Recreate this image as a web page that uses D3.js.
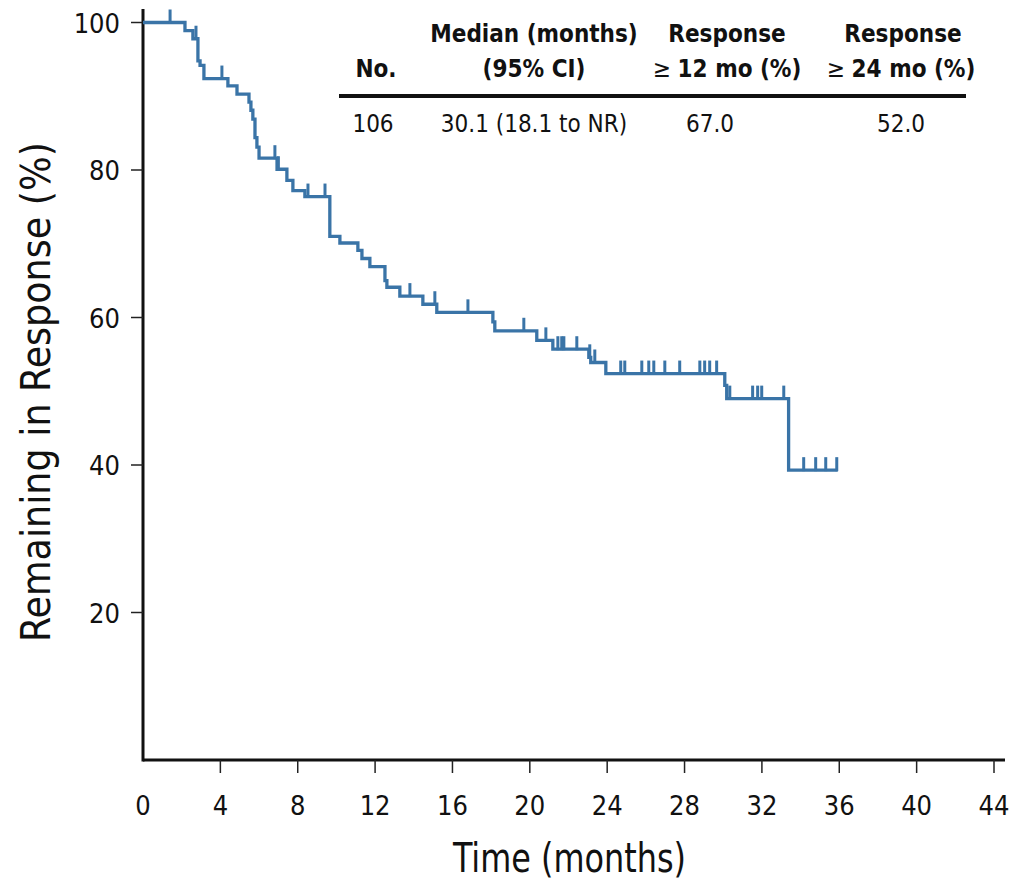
<!DOCTYPE html>
<html>
<head>
<meta charset="utf-8">
<title>Duration of response</title>
<style>
    body { margin: 0; background: #fff; }
    svg { display: block; }
    .cond { font-family: "DejaVu Sans Condensed", "Liberation Sans Narrow", "Arial Narrow", sans-serif; }
</style>
<script src="https://d3js.org/d3.v7.min.js"></script>
</head>
<body>
<svg id="chart" width="1017" height="883"></svg>
<script>
    // step events: time of drop (months) and new % remaining
    const stepTimes = [2.17, 2.58, 2.84, 2.95, 3.15, 4.39, 4.86, 5.48, 5.58, 5.68, 5.79, 5.89, 6.0,
        6.93, 7.44, 7.75, 8.37, 9.66, 10.18, 11.11, 11.32, 11.73, 12.51, 12.61, 13.28, 14.47, 15.19,
        18.09, 18.19, 20.36, 21.19, 23.05, 23.15, 23.93, 30.08, 30.18, 33.38];
    const stepValues = [98.9, 97.8, 94.8, 94.2, 92.4, 91.4, 90.3, 89.2, 88.1, 86.9, 84.4, 83.1, 81.6,
        80.1, 78.6, 77.2, 76.4, 71.0, 70.1, 69.1, 68.0, 66.9, 65.0, 64.1, 62.9, 61.8, 60.7,
        59.4, 58.2, 56.9, 55.7, 54.6, 53.9, 52.4, 50.8, 49.0, 39.3];
    const lastTime = 35.92;

    // censored observations (months)
    const censorTimes = [1.40, 2.74, 4.08, 6.82, 7.0, 8.53, 9.41, 13.8, 15.09, 16.8, 19.69, 20.83,
        21.45, 21.65, 21.76, 22.43, 23.1, 23.36, 24.7, 24.91, 25.79, 26.15, 26.41, 26.98, 27.75,
        28.79, 29.04, 29.3, 29.66, 30.34, 31.52, 31.78, 31.99, 33.13, 34.16, 34.78, 35.3, 35.87];

    const xTicks = [0, 4, 8, 12, 16, 20, 24, 28, 32, 36, 40, 44];
    const yTicks = [20, 40, 60, 80, 100];

    // table
    const tableHead1 = ["", "Median (months)", "Response", "Response"];
    const tableHead2 = ["No.", "(95% CI)", "12 mo (%)", "24 mo (%)"];
    const tableRow = ["106", "30.1 (18.1 to NR)", "67.0", "52.0"];

    const svg = d3.select("#chart");
    const x = d3.scaleLinear().domain([0, 44]).range([143, 994]);
    const y = d3.scaleLinear().domain([0, 100]).range([760, 22.5]);
    const blue = "#3a74a7";

    // axes
    svg.append("line").attr("x1", x(0)).attr("x2", x(44) + 11)
        .attr("y1", y(0)).attr("y2", y(0))
        .attr("stroke", "#111").attr("stroke-width", 3);
    svg.append("line").attr("x1", x(0)).attr("x2", x(0))
        .attr("y1", 9).attr("y2", y(0) + 1.5)
        .attr("stroke", "#111").attr("stroke-width", 3);

    svg.selectAll(".xt").data(xTicks.slice(1)).join("line")
        .attr("x1", d => x(d)).attr("x2", d => x(d))
        .attr("y1", y(0)).attr("y2", y(0) + 13)
        .attr("stroke", "#222").attr("stroke-width", 1.5);
    svg.selectAll(".xl").data(xTicks).join("text")
        .attr("class", "cond")
        .attr("x", d => x(d)).attr("y", 815)
        .attr("text-anchor", "middle")
        .attr("font-size", 27).attr("fill", "#111")
        .text(d => d);

    svg.selectAll(".yt").data(yTicks).join("line")
        .attr("x1", x(0) - 12).attr("x2", x(0))
        .attr("y1", d => y(d)).attr("y2", d => y(d))
        .attr("stroke", "#222").attr("stroke-width", 1.5);
    svg.selectAll(".yl").data(yTicks).join("text")
        .attr("class", "cond")
        .attr("x", 120).attr("y", d => y(d) + 10)
        .attr("text-anchor", "end")
        .attr("font-size", 27).attr("fill", "#111")
        .text(d => d);

    svg.append("text").attr("class", "cond")
        .attr("x", 453).attr("y", 872)
        .attr("font-size", 41).attr("fill", "#111")
        .attr("textLength", 233).attr("lengthAdjust", "spacingAndGlyphs")
        .text("Time (months)");
    svg.append("text").attr("class", "cond")
        .attr("transform", "translate(50,642) rotate(-90)")
        .attr("font-size", 41).attr("fill", "#111")
        .attr("textLength", 500).attr("lengthAdjust", "spacingAndGlyphs")
        .text("Remaining in Response (%)");

    // curve
    const pts = [[0, 100]];
    stepTimes.forEach((t, i) => pts.push([t, stepValues[i]]));
    pts.push([lastTime, stepValues[stepValues.length - 1]]);

    svg.append("path")
        .datum(pts)
        .attr("d", d3.line().x(d => x(d[0])).y(d => y(d[1])).curve(d3.curveStepAfter))
        .attr("fill", "none").attr("stroke", blue).attr("stroke-width", 3.3);

    function survAt(t) {
        let s = 100;
        stepTimes.forEach((st, i) => { if (st <= t) s = stepValues[i]; });
        return s;
    }
    svg.selectAll(".cens").data(censorTimes).join("line")
        .attr("x1", d => x(d)).attr("x2", d => x(d))
        .attr("y1", d => y(survAt(d)) + 1).attr("y2", d => y(survAt(d)) - 13)
        .attr("stroke", blue).attr("stroke-width", 3);

    // table
    const colX = [376, 534, 727, 903];
    const tbl = svg.append("g").attr("class", "cond").attr("fill", "#111");
    tbl.selectAll(".h1").data(tableHead1).join("text")
        .attr("x", (d, i) => colX[i]).attr("y", 42)
        .attr("text-anchor", "middle").attr("font-size", 24).attr("font-weight", "bold")
        .text(d => d);
    const h2 = tbl.selectAll(".h2").data(tableHead2).join("text")
        .attr("x", (d, i) => colX[i] - (i === 3 ? 2 : 0)).attr("y", 77)
        .attr("text-anchor", "middle").attr("font-size", 24).attr("font-weight", "bold");
    h2.filter((d, i) => i >= 2).append("tspan").attr("font-weight", "normal").text("\u2265 ");
    h2.append("tspan").text(d => d);

    tbl.append("line").attr("x1", 339).attr("x2", 966).attr("y1", 96).attr("y2", 96)
        .attr("stroke", "#111").attr("stroke-width", 4);

    const rowX = [373, 534, 710, 901];
    tbl.selectAll(".r").data(tableRow).join("text")
        .attr("x", (d, i) => rowX[i]).attr("y", 132)
        .attr("text-anchor", "middle").attr("font-size", 24)
        .text(d => d);
</script>
</body>
</html>
